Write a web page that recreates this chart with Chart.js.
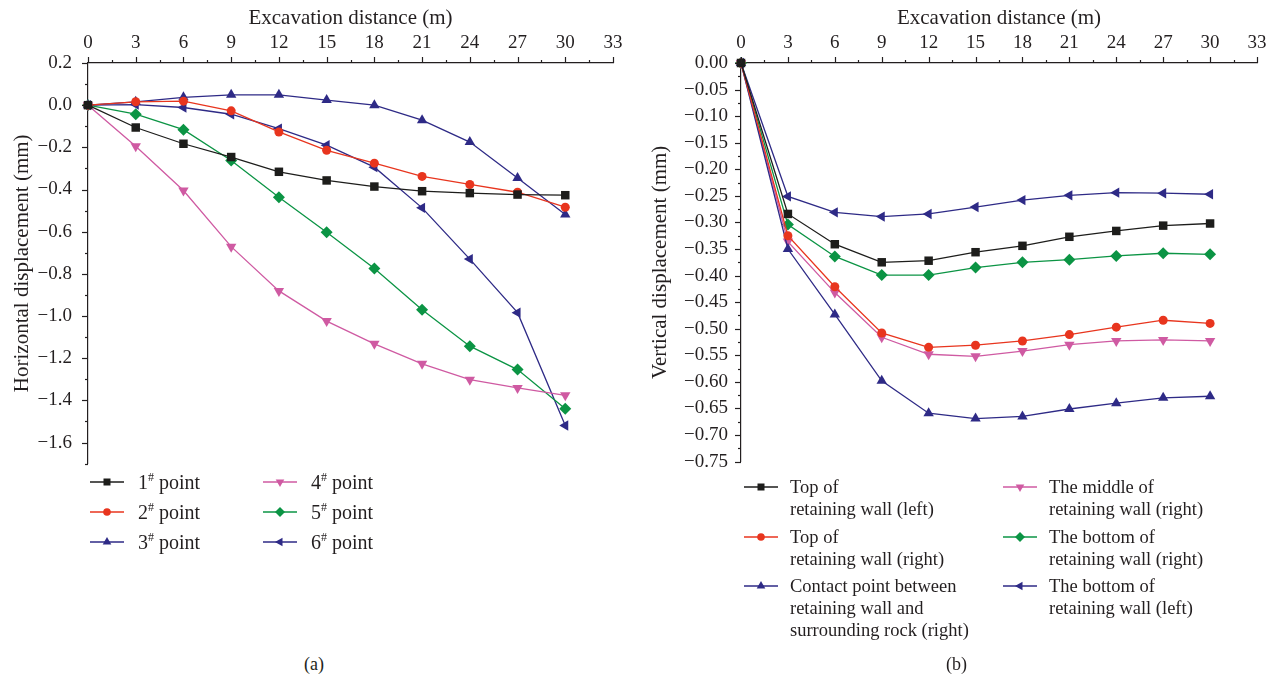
<!DOCTYPE html>
<html>
<head>
<meta charset="utf-8">
<script src="https://cdn.jsdelivr.net/npm/chart.js@4.4.1/dist/chart.umd.min.js"></script>
<style>
  body { margin: 0; background: #fff; font-family: "Liberation Serif", "DejaVu Serif", serif; color: #231f20; }
  #wrap { position: relative; width: 1277px; height: 684px; overflow: hidden; }
  .cv { position: absolute; top: 0; }
  .legend { position: absolute; left: 0; top: 0; }
  .item { position: absolute; white-space: nowrap; line-height: 22px; }
  .item svg { position: absolute; left: 0; top: 4px; }
  .item span { position: absolute; }
  .cap { position: absolute; top: 654px; font-size: 18px; }
</style>
</head>
<body>
<div id="wrap">
  <div class="cv" style="left:0;width:640px;height:485px;"><canvas id="chartA"></canvas></div>
  <div class="cv" style="left:640px;width:637px;height:480px;"><canvas id="chartB"></canvas></div>
  <div id="legendA" class="legend" style="font-size:20px;"></div>
  <div id="legendB" class="legend" style="font-size:18.5px;"></div>
  <div class="cap" style="left:304px;">(a)</div>
  <div class="cap" style="left:946px;">(b)</div>
</div>
<script>
// excavation distance (m)
const distance = [0, 3, 6, 9, 12, 15, 18, 21, 24, 27, 30];
const xTicks = [0, 3, 6, 9, 12, 15, 18, 21, 24, 27, 30, 33];

// (a) horizontal displacement (mm)
const pointNames = ["1", "2", "3", "4", "5", "6"];
const point1 = [0, -0.106, -0.183, -0.246, -0.316, -0.357, -0.386, -0.408, -0.417, -0.424, -0.427];
const point2 = [0, 0.016, 0.019, -0.027, -0.127, -0.214, -0.275, -0.338, -0.376, -0.413, -0.484];
const point3 = [0, 0.016, 0.037, 0.049, 0.049, 0.024, 0, -0.071, -0.175, -0.345, -0.519];
const point4 = [0, -0.195, -0.405, -0.671, -0.881, -1.024, -1.132, -1.227, -1.302, -1.341, -1.376];
const point5 = [0, -0.043, -0.116, -0.262, -0.437, -0.603, -0.775, -0.970, -1.143, -1.254, -1.44];
const point6 = [0, 0.003, -0.011, -0.043, -0.111, -0.190, -0.294, -0.487, -0.730, -0.984, -1.519];

// (b) vertical displacement (mm)
const wallNames = [
  ["Top of", "retaining wall (left)"],
  ["Top of", "retaining wall (right)"],
  ["Contact point between", "retaining wall and", "surrounding rock (right)"],
  ["The middle of", "retaining wall (right)"],
  ["The bottom of", "retaining wall (right)"],
  ["The bottom of", "retaining wall (left)"]
];
const topLeft = [0, -0.284, -0.341, -0.375, -0.372, -0.356, -0.344, -0.327, -0.316, -0.306, -0.302];
const topRight = [0, -0.325, -0.421, -0.508, -0.535, -0.531, -0.523, -0.511, -0.497, -0.484, -0.490];
const contactRight = [0, -0.350, -0.473, -0.598, -0.659, -0.669, -0.665, -0.651, -0.640, -0.630, -0.627];
const middleRight = [0, -0.336, -0.432, -0.516, -0.548, -0.552, -0.542, -0.530, -0.523, -0.521, -0.523];
const bottomRight = [0, -0.304, -0.364, -0.399, -0.399, -0.385, -0.375, -0.370, -0.363, -0.358, -0.360];
const bottomLeft = [0, -0.251, -0.281, -0.289, -0.284, -0.271, -0.258, -0.249, -0.244, -0.245, -0.247];

// marker styles shared by both panels
const styles = [
  { color: "#1d1d1b", point: "rect", radius: 6, rotation: 0 },
  { color: "#e8351e", point: "circle", radius: 4.5, rotation: 0 },
  { color: "#2e2a86", point: "triangle", radius: 6, rotation: 0 },
  { color: "#cf5aa2", point: "triangle", radius: 6, rotation: 180 },
  { color: "#0b9444", point: "rectRot", radius: 6, rotation: 0 },
  { color: "#2e2a86", point: "triangle", radius: 6, rotation: -90 }
];

const FONT = "'Liberation Serif', 'DejaVu Serif', serif";
const INK = "#231f20";
const minus = s => s.replace("-", "\u2212");

function makeSets(series) {
  return series.map((vals, i) => ({
    data: vals.map((v, j) => ({ x: distance[j], y: v })),
    borderColor: styles[i].color,
    backgroundColor: styles[i].color,
    borderWidth: 1.3,
    pointStyle: styles[i].point,
    pointRadius: styles[i].radius,
    pointRotation: styles[i].rotation,
    pointBorderWidth: 0,
    tension: 0,
    clip: false
  }));
}

// draws major and minor ticks outside the axis lines
const tickPlugin = {
  id: "ticks2",
  afterDraw(chart) {
    const ctx = chart.ctx;
    ctx.save();
    ctx.strokeStyle = INK;
    ctx.lineWidth = 1.2;
    const xs = chart.scales.x, ys = chart.scales.y;
    const top = chart.chartArea.top, left = chart.chartArea.left;
    xs.ticks.forEach(t => {
      const px = Math.round(xs.getPixelForValue(t.value)) + 0.5;
      const len = t.label === "" ? 3 : 6;
      ctx.beginPath(); ctx.moveTo(px, top); ctx.lineTo(px, top - len); ctx.stroke();
    });
    ys.ticks.forEach(t => {
      const py = Math.round(ys.getPixelForValue(t.value)) + 0.5;
      const len = t.label === "" ? 3 : 6;
      ctx.beginPath(); ctx.moveTo(left, py); ctx.lineTo(left - len, py); ctx.stroke();
    });
    ctx.restore();
  }
};

function makeChart(id, series, cfg) {
  return new Chart(document.getElementById(id), {
    type: "line",
    data: { datasets: makeSets(series) },
    plugins: [tickPlugin],
    options: {
      responsive: true,
      maintainAspectRatio: false,
      animation: false,
      layout: { padding: { left: 0, right: cfg.padRight, top: 0, bottom: 8 } },
      plugins: { legend: { display: false }, tooltip: { enabled: false } },
      scales: {
        x: {
          type: "linear",
          position: "top",
          min: 0, max: 33,
          ticks: {
            stepSize: 1.5,
            autoSkip: false,
            maxRotation: 0,
            padding: 3,
            color: INK,
            font: { family: FONT, size: 19 },
            callback: v => (xTicks.includes(v) ? String(v) : "")
          },
          grid: { drawOnChartArea: false, drawTicks: true, tickLength: 6, tickColor: "rgba(0,0,0,0)" },
          border: { display: true, color: INK, width: 1.2 },
          title: { display: true, text: "Excavation distance (m)", color: INK, font: { family: FONT, size: 21 }, padding: { top: 6, bottom: 0 } },
          afterFit: s => { s.height = 63; }
        },
        y: {
          type: "linear",
          position: "left",
          min: cfg.min, max: cfg.max,
          ticks: {
            stepSize: cfg.step,
            autoSkip: false,
            padding: cfg.tickPad,
            color: INK,
            font: { family: FONT, size: 19 },
            callback: cfg.label
          },
          grid: { drawOnChartArea: false, drawTicks: true, tickLength: 6, tickColor: "rgba(0,0,0,0)" },
          border: { display: true, color: INK, width: 1.2 },
          title: { display: true, text: cfg.title, color: INK, font: { family: FONT, size: 21 }, padding: { top: cfg.titlePad, bottom: 0 } },
          afterFit: s => { s.width = cfg.yWidth; }
        }
      }
    }
  });
}

makeChart("chartA", [point1, point2, point3, point4, point5, point6], {
  min: -1.7, max: 0.2, step: 0.1,
  title: "Horizontal displacement (mm)", titlePad: 10, yWidth: 88, padRight: 27, tickPad: 10,
  label: v => (Math.round(v * 10) % 2 === 0 ? minus(v.toFixed(1)) : "")
});

makeChart("chartB", [topLeft, topRight, contactRight, middleRight, bottomRight, bottomLeft], {
  min: -0.75, max: 0, step: 0.025,
  title: "Vertical displacement (mm)", titlePad: 8, yWidth: 101, padRight: 20, tickPad: 7,
  label: v => (Math.round(v * 1000) % 50 === 0 ? minus(v.toFixed(2)) : "")
});

// legend sample: line with marker
function markerSvg(s) {
  const cx = 17, cy = 7, r = s.radius - 1;
  let shape = "";
  if (s.point === "rect") shape = `<rect x="${cx - 3.5}" y="${cy - 3.5}" width="7" height="7" fill="${s.color}"/>`;
  else if (s.point === "circle") shape = `<circle cx="${cx}" cy="${cy}" r="3.8" fill="${s.color}"/>`;
  else if (s.point === "rectRot") shape = `<polygon points="${cx},${cy - 5} ${cx + 5},${cy} ${cx},${cy + 5} ${cx - 5},${cy}" fill="${s.color}"/>`;
  else {
    const pts = [0, 120, 240].map(a => {
      const rad = (a + s.rotation) * Math.PI / 180;
      return `${(cx + Math.sin(rad) * r).toFixed(1)},${(cy - Math.cos(rad) * r).toFixed(1)}`;
    }).join(" ");
    shape = `<polygon points="${pts}" fill="${s.color}"/>`;
  }
  return `<svg width="34" height="14"><line x1="0" y1="${cy}" x2="34" y2="${cy}" stroke="${s.color}" stroke-width="1.6"/>${shape}</svg>`;
}

function buildLegend(el, labels, positions, textGap) {
  labels.forEach((lab, i) => {
    const d = document.createElement("div");
    d.className = "item";
    d.style.left = positions[i][0] + "px";
    d.style.top = positions[i][1] + "px";
    d.innerHTML = markerSvg(styles[i]) + `<span style="left:${textGap}px;top:0">${lab}</span>`;
    el.appendChild(d);
  });
}

buildLegend(document.getElementById("legendA"),
  pointNames.map(n => `${n}<sup style="font-size:12px;line-height:0">#</sup> point`),
  [[90, 471], [90, 501], [90, 531], [263, 471], [263, 501], [263, 531]], 48);

buildLegend(document.getElementById("legendB"),
  wallNames.map(lines => lines.join("<br>")),
  [[744, 476], [744, 526], [744, 575], [1003, 476], [1003, 526], [1003, 575]], 46);
</script>
</body>
</html>
